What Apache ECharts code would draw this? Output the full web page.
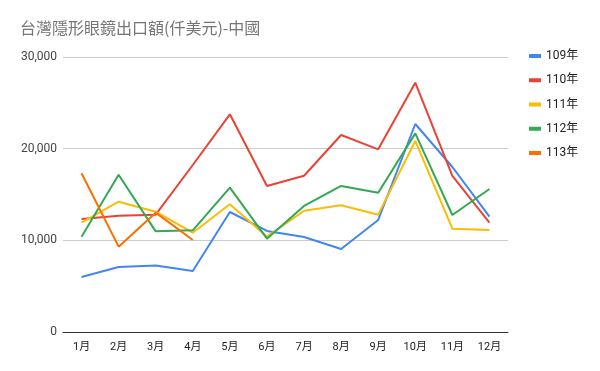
<!DOCTYPE html>
<html><head><meta charset="utf-8">
<script src="https://cdn.jsdelivr.net/npm/echarts@6/dist/echarts.min.js"></script>
<style>html,body{margin:0;padding:0;background:#fff}#c{width:600px;height:371px}</style>
</head><body><div id="c"></div>
<script>
const months = ['1月','2月','3月','4月','5月','6月','7月','8月','9月','10月','11月','12月'];
const y109 = [6000,7090,7250,6650,13090,11020,10360,9050,12220,22690,18000,12580];
const y110 = [12330,12690,12800,18220,23750,15930,17050,21490,19930,27200,17020,11920];
const y111 = [11920,14210,13120,10830,13930,10400,13230,13820,12800,20840,11270,11130];
const y112 = [10400,17160,10980,11090,15750,10180,13750,15930,15200,21670,12760,15600];
const y113 = [17310,9310,13020,10040];
const seriesNames = ['109年','110年','111年','112年','113年'];
const seriesData = [y109,y110,y111,y112,y113];
const colors = ['#4285f4','#ea4335','#fbbc04','#34a853','#ff6d01'];
const yTicks = [0,10000,20000,30000];

const chart = echarts.init(document.getElementById('c'));
chart.setOption({
  animation:false,
  color:colors,
  title:{text:'台灣隱形眼鏡出口額(仟美元)-中國',left:15,top:15,textStyle:{fontSize:16,fontWeight:'normal',color:'#757575',fontFamily:'"Noto Sans CJK TC", sans-serif'}},
  legend:{orient:'vertical',left:524,top:44,itemGap:10.25,itemWidth:12,itemHeight:4,icon:'rect',
    data:seriesNames,textStyle:{fontSize:12,color:'#222',lineHeight:14,fontFamily:'Roboto, "Noto Sans CJK TC", sans-serif'}},
  grid:{left:63,right:92,top:57,bottom:39,containLabel:false},
  xAxis:{type:'category',data:months,boundaryGap:true,
    axisLine:{lineStyle:{color:'#333',width:1}},axisTick:{show:false},
    axisLabel:{fontSize:11,color:'#222',margin:10,fontFamily:'Roboto, "Noto Sans CJK TC", sans-serif'}},
  yAxis:{type:'value',min:yTicks[0],max:yTicks[yTicks.length-1],interval:10000,
    axisLine:{show:false},axisTick:{show:false},
    splitLine:{lineStyle:{color:'#cccccc'}},
    axisLabel:{fontSize:12,color:'#444',margin:6,fontFamily:'Roboto, sans-serif',
      formatter:v=>v.toLocaleString('en-US')}},
  series:seriesNames.map((n,i)=>({name:n,type:'line',data:seriesData[i],showSymbol:false,symbol:'none',
    lineStyle:{width:2,color:colors[i]},itemStyle:{color:colors[i]}}))
});
</script></body></html>
